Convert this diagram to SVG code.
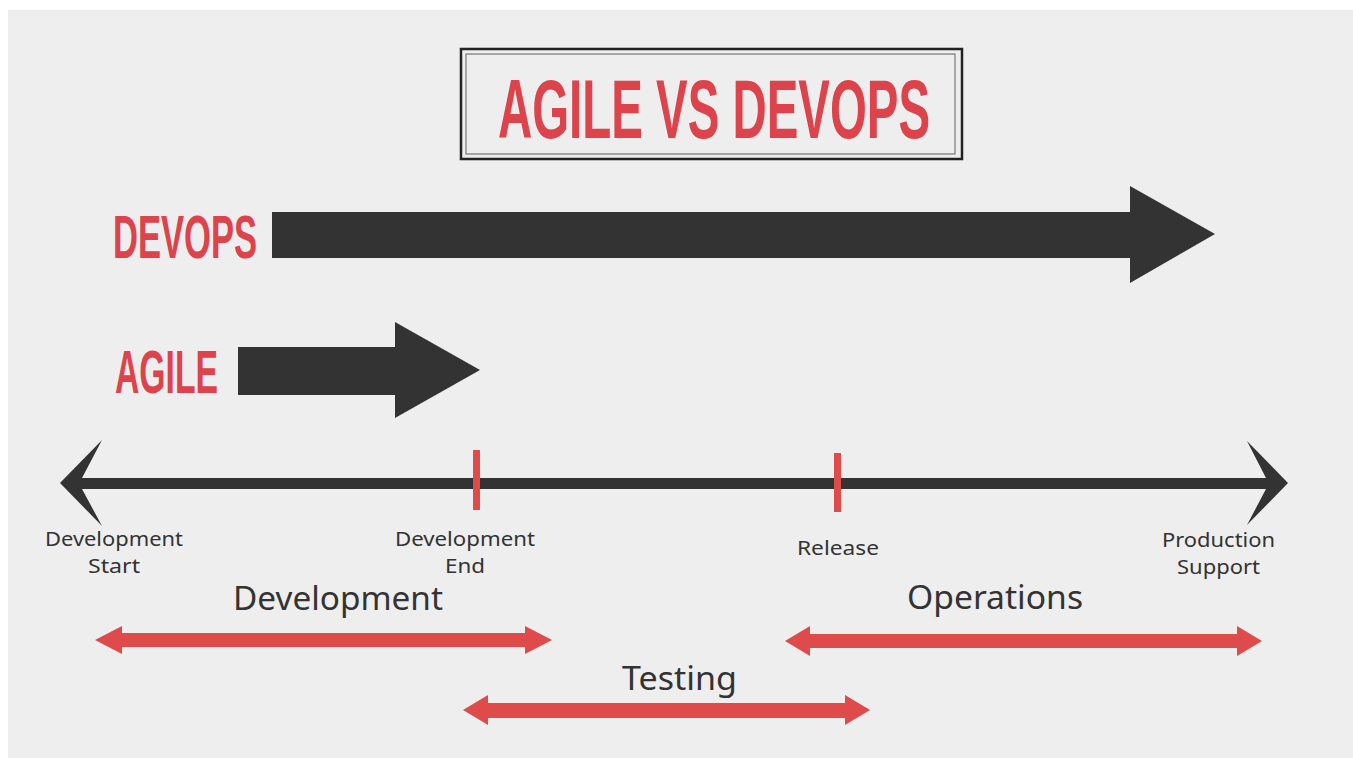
<svg xmlns="http://www.w3.org/2000/svg" width="1353" height="758" viewBox="0 0 1353 758">
  <style>
    .head { font-family: "Liberation Sans", Arial, sans-serif; font-weight: 700; fill: #dc434b; }
    .lbl { font-family: "Noto Sans", "Open Sans", sans-serif; fill: #333333; }
    .small { font-size: 19px; }
    .big { font-size: 32px; }
    .dark { fill: #333333; }
    .red { fill: #df4b4b; }
  </style>

  <!-- page -->
  <rect x="0" y="0" width="1353" height="758" fill="#ffffff"/>
  <rect x="8" y="10" width="1345" height="748" fill="#eeeeee"/>

  <!-- title box -->
  <g id="title">
    <rect x="461" y="49" width="501" height="110" fill="none" stroke="#222222" stroke-width="2.5"/>
    <rect x="466" y="54" width="489" height="100" fill="none" stroke="#777777" stroke-width="1.2"/>
    <text class="head" x="498" y="138" font-size="84" textLength="432" lengthAdjust="spacingAndGlyphs">AGILE VS DEVOPS</text>
  </g>

  <!-- DevOps span -->
  <g id="devops">
    <text class="head" x="113" y="258" font-size="62" textLength="144" lengthAdjust="spacingAndGlyphs">DEVOPS</text>
    <polygon class="dark" points="272,212 1130,212 1130,186 1215,234 1130,283 1130,258 272,258"/>
  </g>

  <!-- Agile span -->
  <g id="agile">
    <text class="head" x="115" y="393" font-size="62" textLength="103" lengthAdjust="spacingAndGlyphs">AGILE</text>
    <polygon class="dark" points="238,347 395,347 395,322 480,370 395,418 395,395 238,395"/>
  </g>

  <!-- timeline -->
  <g id="timeline">
    <rect class="dark" x="75" y="478" width="1200" height="11"/>
    <path class="dark" d="M102,440 L60,483 L102,526 L82,489 L82,478 Z"/>
    <path class="dark" d="M1247,441 L1288,483 L1247,525 L1266,489 L1266,478 Z"/>
    <rect class="red" x="473" y="450" width="7" height="60"/>
    <rect class="red" x="834" y="453" width="7" height="59"/>
  </g>

  <!-- milestone labels -->
  <g id="milestones">
    <text class="lbl small" x="45" y="546" textLength="138" lengthAdjust="spacingAndGlyphs">Development</text>
    <text class="lbl small" x="88" y="573" textLength="52" lengthAdjust="spacingAndGlyphs">Start</text>
    <text class="lbl small" x="395" y="546" textLength="140" lengthAdjust="spacingAndGlyphs">Development</text>
    <text class="lbl small" x="445" y="573" textLength="40" lengthAdjust="spacingAndGlyphs">End</text>
    <text class="lbl small" x="797" y="555" textLength="82" lengthAdjust="spacingAndGlyphs">Release</text>
    <text class="lbl small" x="1162" y="547" textLength="113" lengthAdjust="spacingAndGlyphs">Production</text>
    <text class="lbl small" x="1177" y="574" textLength="83" lengthAdjust="spacingAndGlyphs">Support</text>
  </g>

  <!-- phases -->
  <g id="development">
    <text class="lbl big" x="233" y="610" textLength="210" lengthAdjust="spacingAndGlyphs">Development</text>
    <polygon class="red" points="95,640 122,626 122,633 525,633 525,626 552,640 525,654 525,647 122,647 122,654"/>
  </g>
  <g id="operations">
    <text class="lbl big" x="907" y="609" textLength="176" lengthAdjust="spacingAndGlyphs">Operations</text>
    <polygon class="red" points="785,641 810,626 810,634 1237,634 1237,626 1262,641 1237,656 1237,648 810,648 810,656"/>
  </g>
  <g id="testing">
    <text class="lbl big" x="622" y="690" textLength="115" lengthAdjust="spacingAndGlyphs">Testing</text>
    <polygon class="red" points="463,710 488,695 488,703 845,703 845,695 870,710 845,725 845,718 488,718 488,725"/>
  </g>
</svg>
